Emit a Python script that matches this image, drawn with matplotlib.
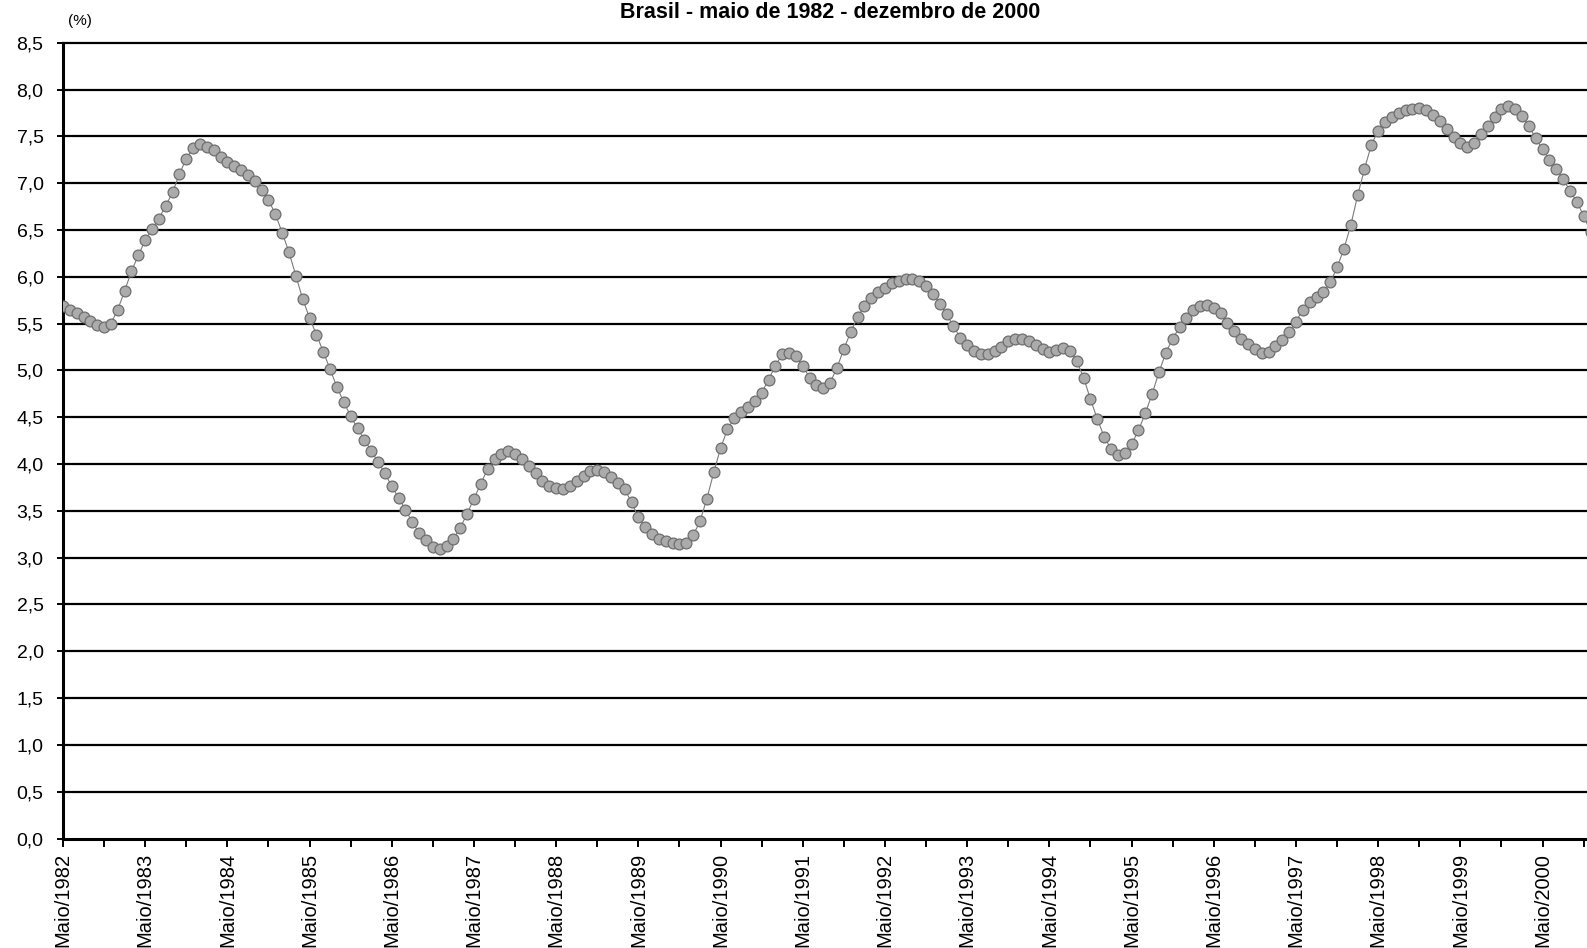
import matplotlib
matplotlib.use("Agg")
import matplotlib.pyplot as plt

plt.rcParams['font.family'] = ['Liberation Sans', 'DejaVu Sans']

title = "Brasil - maio de 1982 - dezembro de 2000"
unit_label = "(%)"

# monthly values, maio/1982 ... dezembro/2000 (224 months)
values = [
    5.69, 5.65, 5.61, 5.57, 5.53, 5.49, 5.46, 5.50, 5.65, 5.85, 6.06, 6.23,   # 1982-05 .. 1983-04
    6.39, 6.51, 6.62, 6.76, 6.90, 7.10, 7.26, 7.38, 7.42, 7.39, 7.35, 7.28,   # 1983-05 ..
    7.23, 7.18, 7.14, 7.09, 7.02, 6.93, 6.82, 6.67, 6.47, 6.26, 6.01, 5.76,   # 1984-05 ..
    5.56, 5.38, 5.20, 5.01, 4.82, 4.66, 4.51, 4.38, 4.26, 4.14, 4.02, 3.90,   # 1985-05 ..
    3.76, 3.64, 3.51, 3.38, 3.26, 3.19, 3.11, 3.09, 3.12, 3.20, 3.32, 3.47,   # 1986-05 ..
    3.63, 3.79, 3.95, 4.05, 4.11, 4.14, 4.11, 4.05, 3.98, 3.90, 3.82, 3.76,   # 1987-05 ..
    3.74, 3.73, 3.77, 3.82, 3.87, 3.92, 3.94, 3.91, 3.86, 3.80, 3.73, 3.59,   # 1988-05 ..
    3.43, 3.33, 3.25, 3.20, 3.18, 3.16, 3.15, 3.16, 3.24, 3.39, 3.63, 3.91,   # 1989-05 ..
    4.17, 4.37, 4.49, 4.56, 4.61, 4.67, 4.76, 4.90, 5.05, 5.17, 5.19, 5.15,   # 1990-05 ..
    5.05, 4.92, 4.84, 4.81, 4.87, 5.03, 5.23, 5.41, 5.57, 5.69, 5.77, 5.84,   # 1991-05 ..
    5.88, 5.93, 5.95, 5.98, 5.98, 5.95, 5.90, 5.82, 5.71, 5.60, 5.47, 5.35,   # 1992-05 ..
    5.27, 5.21, 5.17, 5.18, 5.21, 5.25, 5.31, 5.34, 5.34, 5.31, 5.27, 5.23,   # 1993-05 ..
    5.20, 5.22, 5.24, 5.21, 5.10, 4.92, 4.69, 4.48, 4.29, 4.16, 4.10, 4.12,   # 1994-05 ..
    4.21, 4.36, 4.54, 4.75, 4.98, 5.19, 5.34, 5.46, 5.56, 5.64, 5.69, 5.70,   # 1995-05 ..
    5.67, 5.61, 5.51, 5.42, 5.34, 5.28, 5.23, 5.19, 5.20, 5.26, 5.32, 5.41,   # 1996-05 ..
    5.52, 5.65, 5.73, 5.78, 5.84, 5.94, 6.10, 6.30, 6.55, 6.87, 7.15, 7.41,   # 1997-05 ..
    7.56, 7.65, 7.71, 7.75, 7.78, 7.79, 7.80, 7.78, 7.73, 7.66, 7.58, 7.49,   # 1998-05 ..
    7.43, 7.39, 7.43, 7.52, 7.61, 7.71, 7.79, 7.82, 7.79, 7.72, 7.61, 7.48,   # 1999-05 ..
    7.36, 7.25, 7.15, 7.04, 6.92, 6.80, 6.65, 6.48,                           # 2000-05 .. 2000-12
]

year_labels = [f"Maio/{y}" for y in range(1982, 2001)]
y_ticks = [i * 0.5 for i in range(18)]
y_tick_labels = [f"{v:.1f}".replace(".", ",") for v in y_ticks]

W, H = 1587, 948
fig = plt.figure(figsize=(W / 100, H / 100), dpi=100)
fig.patch.set_facecolor("white")

n_view = 224  # months spanned by the axis
left_px, px_per_month = 63, 6.85
ax_left = left_px / W
ax_width = n_view * px_per_month / W
ax_bottom = (H - 838.5) / H
ax_top = (H - 42.7) / H
ax = fig.add_axes([ax_left, ax_bottom, ax_width, ax_top - ax_bottom])

x = list(range(len(values)))
ax.plot(x, values, color="#7a7a7a", lw=0.8, marker="o", markersize=7.8,
        markerfacecolor="#ababab", markeredgecolor="#6e6e6e",
        markeredgewidth=0.9, zorder=3)

ax.set_xlim(0, n_view)
ax.set_ylim(0, 8.5)

for v in y_ticks[1:]:
    ax.axhline(v, color="black", lw=1.6, zorder=1, clip_on=False)

ax.set_yticks(y_ticks)
ax.set_yticklabels(y_tick_labels)
major = [12 * i for i in range(len(year_labels))]
minor = [12 * i + 6 for i in range(len(year_labels))]
ax.set_xticks(major)
ax.set_xticklabels(year_labels, rotation=90, ha="center", va="top")
ax.set_xticks(minor, minor=True)

ax.tick_params(axis="y", direction="out", length=4, width=1.4, pad=10,
               labelsize=14, colors="black")
ax.tick_params(axis="x", which="both", direction="out", length=5.5, width=1.4,
               pad=5, labelsize=14.5, colors="black")

for s in ("top", "right"):
    ax.spines[s].set_visible(False)
ax.spines["left"].set_linewidth(2.2)
ax.spines["bottom"].set_linewidth(2.2)

fig.text(830 / W, 1 - 18 / H, title, ha="center", va="baseline",
         fontsize=15.5, fontweight="bold")
fig.text(80 / W, 1 - 21 / H, unit_label, ha="center", va="center", fontsize=11)

fig.savefig("out.png", dpi=100)
